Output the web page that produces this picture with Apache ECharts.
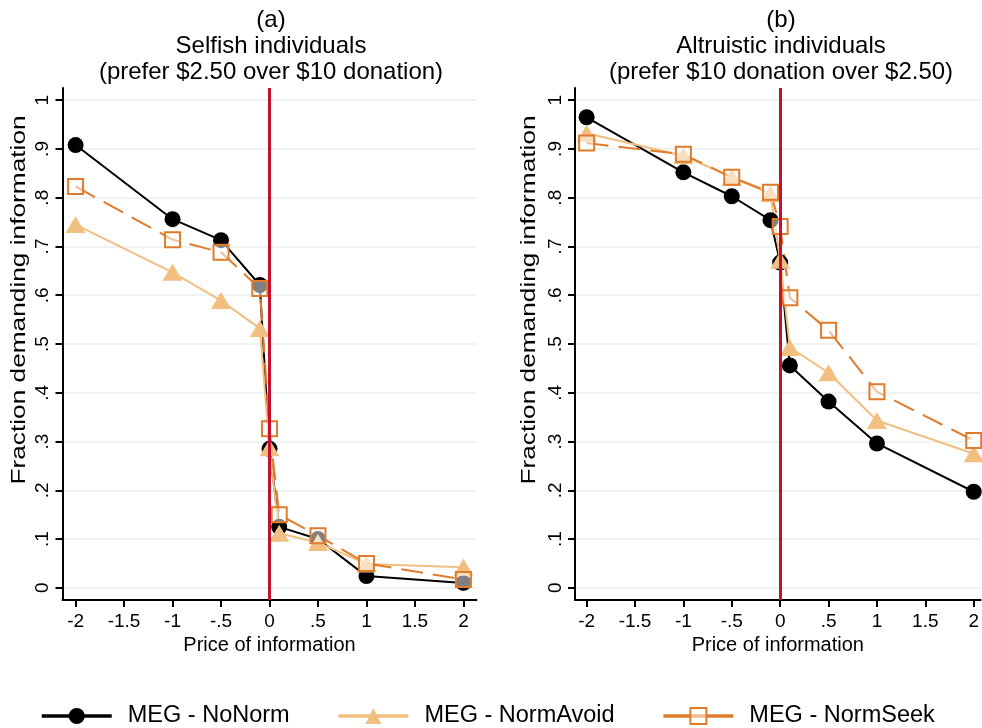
<!DOCTYPE html>
<html>
<head>
<meta charset="utf-8">
<script src="https://cdn.jsdelivr.net/npm/echarts@6/dist/echarts.min.js"></script>
<style>
  html, body { margin: 0; padding: 0; background: #fff; }
  #chart { width: 982px; height: 728px; }
</style>
</head>
<body>
<div id="chart"></div>
<script>
// price of information (x) shared by every series
var prices = [-2, -1, -0.5, -0.1, 0, 0.1, 0.5, 1, 2]

// (a) selfish individuals
var selfNoNorm = [0.908, 0.756, 0.713, 0.621, 0.285, 0.125, 0.100, 0.024, 0.010]
var selfNormAvoid = [0.745, 0.647, 0.589, 0.532, 0.287, 0.112, 0.093, 0.049, 0.042]
var selfNormSeek = [0.823, 0.714, 0.688, 0.614, 0.326, 0.150, 0.107, 0.050, 0.017]

// (b) altruistic individuals
var altNoNorm = [0.965, 0.852, 0.803, 0.754, 0.667, 0.456, 0.382, 0.296, 0.197]
var altNormAvoid = [0.932, 0.886, 0.842, 0.808, 0.672, 0.493, 0.441, 0.343, 0.275]
var altNormSeek = [0.912, 0.889, 0.842, 0.811, 0.741, 0.595, 0.528, 0.402, 0.302]

var seriesNames = ['MEG - NoNorm', 'MEG - NormAvoid', 'MEG - NormSeek']

// tick positions and labels
var xTicks = [-2, -1.5, -1, -0.5, 0, 0.5, 1, 1.5, 2]
var xTickLabels = ['-2', '-1.5', '-1', '-.5', '0', '.5', '1', '1.5', '2']
var yTicks = [0, 0.1, 0.2, 0.3, 0.4, 0.5, 0.6, 0.7, 0.8, 0.9, 1]
var yTickLabels = ['0', '.1', '.2', '.3', '.4', '.5', '.6', '.7', '.8', '.9', '1']

var FONT = '"Liberation Sans", Arial, Helvetica, sans-serif'
var BLACK = '#000000'
var SAND = '#f1bf80'
var ORANGE = '#e17b2c'
var RED = '#c8102e'

function pairs (ys) {
  return prices.map(function (x, i) { return [x, ys[i]] })
}

function xAxis (gridIndex, min, max) {
  return {
    type: 'value',
    gridIndex: gridIndex,
    min: min,
    max: max,
    name: 'Price of information',
    nameLocation: 'middle',
    nameGap: 34,
    nameTextStyle: { fontFamily: FONT, fontSize: 20, color: '#000' },
    axisLine: { onZero: false, lineStyle: { color: '#000', width: 2 } },
    axisTick: { length: 7, lineStyle: { color: '#000', width: 2 }, customValues: xTicks },
    axisLabel: {
      customValues: xTicks,
      margin: 12,
      fontFamily: FONT,
      fontSize: 19,
      color: '#000',
      formatter: function (v) {
        var i = xTicks.indexOf(v)
        return i >= 0 ? xTickLabels[i] : ''
      }
    },
    splitLine: { show: false }
  }
}

function yAxis (gridIndex) {
  return {
    type: 'value',
    gridIndex: gridIndex,
    min: -0.025,
    max: 1.025,
    axisLine: { show: true, onZero: false, lineStyle: { color: '#000', width: 2 } },
    axisTick: { show: true, length: 7, lineStyle: { color: '#000', width: 2 }, customValues: yTicks },
    axisLabel: {
      customValues: yTicks,
      rotate: 90,
      margin: 10,
      fontFamily: FONT,
      fontSize: 19,
      color: '#000',
      formatter: function (v) {
        for (var i = 0; i < yTicks.length; i++) {
          if (Math.abs(yTicks[i] - v) < 1e-6) return yTickLabels[i]
        }
        return ''
      }
    },
    splitLine: { show: true, lineStyle: { color: '#e8f0f0', width: 1.5 } }
  }
}

function panelSeries (idx, noNorm, normAvoid, normSeek) {
  return [{
    name: seriesNames[0],
    type: 'line',
    xAxisIndex: idx,
    yAxisIndex: idx,
    data: pairs(noNorm),
    symbol: 'circle',
    symbolSize: 16,
    showSymbol: true,
    lineStyle: { color: BLACK, width: 2 },
    itemStyle: { color: BLACK },
    markLine: {
      silent: true,
      symbol: 'none',
      label: { show: false },
      lineStyle: { color: RED, width: 3, type: 'solid' },
      data: [{ xAxis: 0 }]
    }
  }, {
    name: seriesNames[1],
    type: 'line',
    xAxisIndex: idx,
    yAxisIndex: idx,
    data: pairs(normAvoid),
    symbol: 'triangle',
    symbolSize: [20, 17],
    showSymbol: true,
    lineStyle: { color: SAND, width: 2 },
    itemStyle: { color: SAND }
  }, {
    name: seriesNames[2],
    type: 'line',
    xAxisIndex: idx,
    yAxisIndex: idx,
    data: pairs(normSeek),
    symbol: 'rect',
    symbolSize: 15,
    showSymbol: true,
    lineStyle: { color: ORANGE, width: 2, type: [22, 10] },
    itemStyle: { color: 'rgba(255,255,255,0.5)', borderColor: ORANGE, borderWidth: 2 }
  }]
}

// vertical axis title, stretched along its length like the original
function yTitle (x) {
  return {
    type: 'text',
    x: x,
    y: 300,
    rotation: Math.PI / 2,
    scaleX: 1.25,
    silent: true,
    style: {
      text: 'Fraction demanding information',
      fontFamily: FONT,
      fontSize: 21,
      fill: '#000',
      align: 'center',
      verticalAlign: 'middle'
    }
  }
}

var chart = echarts.init(document.getElementById('chart'), null, { renderer: 'canvas' })

var titleStyle = { fontFamily: FONT, fontSize: 24, fontWeight: 'normal', color: '#000', lineHeight: 26 }

chart.setOption({
  backgroundColor: '#fff',
  animation: false,
  title: [{
    text: '(a)\nSelfish individuals\n(prefer $2.50 over $10 donation)',
    left: 266,
    top: 2,
    textAlign: 'center',
    textStyle: titleStyle
  }, {
    text: '(b)\nAltruistic individuals\n(prefer $10 donation over $2.50)',
    left: 776,
    top: 2,
    textAlign: 'center',
    textStyle: titleStyle
  }],
  legend: {
    data: [
      { name: seriesNames[0], lineStyle: { width: 3.5 } },
      { name: seriesNames[1], lineStyle: { width: 3.5 } },
      { name: seriesNames[2], lineStyle: { width: 3.5, type: 'solid' } }
    ],
    left: 35,
    top: 699,
    itemWidth: 70,
    itemHeight: 20,
    itemGap: 47,
    textStyle: { fontFamily: FONT, fontSize: 23.5, color: '#000', padding: [0, 0, 0, 11] }
  },
  graphic: [yTitle(19), yTitle(529)],
  grid: [
    { left: 62.5, top: 88, width: 414, height: 512 },
    { left: 575, top: 88, width: 407, height: 512 }
  ],
  xAxis: [xAxis(0, -2.135, 2.135), xAxis(1, -2.12, 2.071)],
  yAxis: [yAxis(0), yAxis(1)],
  series: panelSeries(0, selfNoNorm, selfNormAvoid, selfNormSeek)
    .concat(panelSeries(1, altNoNorm, altNormAvoid, altNormSeek))
})
</script>
</body>
</html>
